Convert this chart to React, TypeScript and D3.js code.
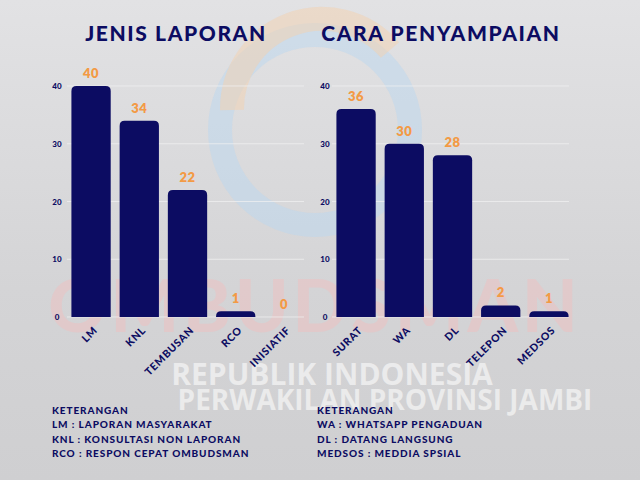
import React from "react";
import * as d3 from "d3";

const jenisCategories = ["LM", "KNL", "TEMBUSAN", "RCO", "INISIATIF"];
const jenisValues = [40, 34, 22, 1, 0];
const caraCategories = ["SURAT", "WA", "DL", "TELEPON", "MEDSOS"];
const caraValues = [36, 30, 28, 2, 1];
const yTicks = [0, 10, 20, 30, 40];
const leftLegend = ["KETERANGAN", "LM : LAPORAN MASYARAKAT", "KNL : KONSULTASI NON LAPORAN", "RCO : RESPON CEPAT OMBUDSMAN"];
const rightLegend = ["KETERANGAN", "WA : WHATSAPP PENGADUAN", "DL : DATANG LANGSUNG", "MEDSOS : MEDDIA SPSIAL"];

const NAVY = "#0c0c62";
const ORANGE = "#f39a45";
const FONT = "'Lato', 'DejaVu Sans', sans-serif";

function topRounded(x: number, y: number, w: number, h: number, r: number) {
  const rr = Math.min(r, h, w / 2);
  const p = d3.path();
  p.moveTo(x, y + h);
  p.lineTo(x, y + rr);
  p.quadraticCurveTo(x, y, x + rr, y);
  p.lineTo(x + w - rr, y);
  p.quadraticCurveTo(x + w, y, x + w, y + rr);
  p.lineTo(x + w, y + h);
  p.closePath();
  return p.toString();
}

function Chart({ cats, vals, x0, x1, title, titleX, tickX }: any) {
  const y = d3.scaleLinear().domain([0, 40]).range([317, 86]);
  const x = d3.scaleBand<string>().domain(cats).range([x0, x1]).paddingInner(0.185).paddingOuter(0.05);
  return (
    <g>
      <text x={titleX} y={41} textAnchor="middle" fontFamily={FONT} fontWeight={900} fontSize={21} letterSpacing={1.6} fill={NAVY}>{title}</text>
      {yTicks.map((t) => (
        <g key={t}>
          <line x1={x0 - 2} x2={x1 - 2} y1={y(t)} y2={y(t)} stroke="#f2f2f2" strokeOpacity={0.7} strokeWidth={1} />
          <text x={tickX} y={y(t) + 3} textAnchor="middle" fontFamily={FONT} fontWeight={900} fontSize={8} fill={NAVY}>{t}</text>
        </g>
      ))}
      {cats.map((c: string, i: number) => {
        const bx = x(c)!;
        const bw = x.bandwidth();
        const top = y(vals[i]);
        const h = y(0) - top;
        const cx = bx + bw / 2;
        return (
          <g key={c}>
            {h > 0 && <path d={topRounded(bx, top, bw, h, 5)} fill={NAVY} />}
            <text x={cx} y={top - 8} textAnchor="middle" fontFamily={FONT} fontWeight={800} fontSize={13} letterSpacing={0.5} fill={ORANGE}>{vals[i]}</text>
            <text transform={`translate(${cx + 7},${y(0) + 14}) rotate(-45)`} textAnchor="end" fontFamily={FONT} fontWeight={900} fontSize={10.5} letterSpacing={0.7} fill={NAVY}>{c}</text>
          </g>
        );
      })}
    </g>
  );
}

export default function App() {
  return (
    <svg width={640} height={480} style={{ position: "absolute", left: 0, top: 0 }}>
      <defs>
        <linearGradient id="bg" x1="0" y1="0" x2="0" y2="1">
          <stop offset="0" stopColor="#e2e2e4" />
          <stop offset="0.6" stopColor="#d4d4d6" />
          <stop offset="1" stopColor="#cfcfd1" />
        </linearGradient>
      </defs>
      <rect width={640} height={480} fill="url(#bg)" />
      {/* watermark logo */}
      <circle cx={315} cy={130} r={95} fill="none" stroke="#bcd8f0" strokeWidth={24} opacity={0.5} />
      <path d="M232 110 A 90 90 0 0 1 390 50" fill="none" stroke="#f4d2b0" strokeWidth={24} opacity={0.5} />
      <text x={315} y={332} textAnchor="middle" fontFamily={FONT} fontWeight={900} fontSize={72} letterSpacing={4} fill="#f6bcbc" opacity={0.4}>OMBUDSMAN</text>
      <text x={332} y={385} textAnchor="middle" fontFamily="'Open Sans', sans-serif" fontWeight={700} fontSize={30} fill="#f4f4f4" opacity={0.75}>REPUBLIK INDONESIA</text>
      <text x={385} y={410} textAnchor="middle" fontFamily="'Open Sans', sans-serif" fontWeight={700} fontSize={28} fill="#f4f4f4" opacity={0.75}>PERWAKILAN PROVINSI JAMBI</text>

      <Chart cats={jenisCategories} vals={jenisValues} x0={69} x1={306} title="JENIS LAPORAN" titleX={176} tickX={57} />
      <Chart cats={caraCategories} vals={caraValues} x0={334} x1={571} title="CARA PENYAMPAIAN" titleX={441} tickX={325} />

      {leftLegend.map((t, i) => (
        <text key={t} x={52} y={414 + i * 14.3} fontFamily={FONT} fontWeight={900} fontSize={10} letterSpacing={0.9} fill={NAVY}>{t}</text>
      ))}
      {rightLegend.map((t, i) => (
        <text key={t} x={317} y={414 + i * 14.3} fontFamily={FONT} fontWeight={900} fontSize={10} letterSpacing={0.9} fill={NAVY}>{t}</text>
      ))}
    </svg>
  );
}
